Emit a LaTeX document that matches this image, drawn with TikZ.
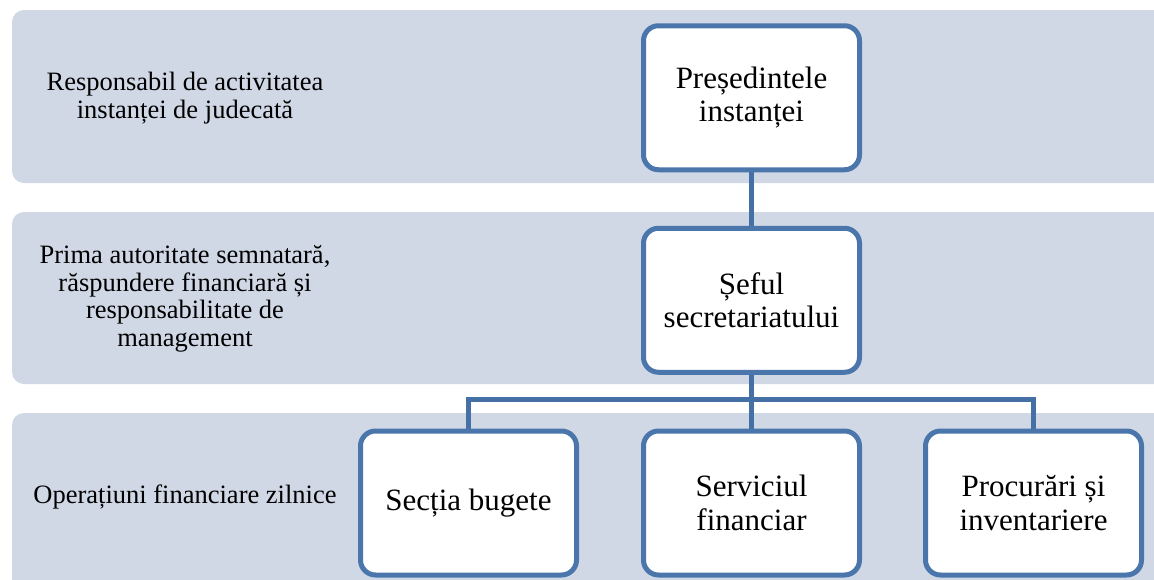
\documentclass[tikz,border=0pt]{standalone}
\usepackage{fontspec}
\setmainfont{Liberation Serif}
\definecolor{bandfill}{HTML}{D0D8E6}
\definecolor{boxblue}{HTML}{4A76AB}
\definecolor{connblue}{HTML}{4570A6}
\pgfdeclarelayer{bandlayer}
\pgfdeclarelayer{connlayer}
\pgfsetlayers{bandlayer,connlayer,main}
\tikzset{
  band/.style={fill=bandfill, rounded corners=12pt},
  orgbox/.style={draw=boxblue, line width=5pt, fill=white, rounded corners=15pt,
    minimum width=216pt, minimum height=144pt, inner sep=0pt, align=center,
    font=\fontsize{31}{33.5}\selectfont},
  sidelabel/.style={align=center, inner sep=0pt, font=\fontsize{26.5}{27.6}\selectfont},
  conn/.style={draw=connblue, line width=4.5pt}
}
\begin{document}
\begin{tikzpicture}[x=1pt,y=-1pt]
\useasboundingbox (0,0) rectangle (1154,579);
\clip (0,0) rectangle (1154,579);
% bands
\begin{pgfonlayer}{bandlayer}
\fill[band] (12,10) rectangle (1180,183);
\fill[band] (12,212) rectangle (1180,384);
\fill[band] (12,413) rectangle (1180,600);
\end{pgfonlayer}
% side labels
\node[sidelabel] (l1) at (185,98) {Responsabil de activitatea\\instanței de judecată};
\node[sidelabel] (l2) at (185,299) {Prima autoritate semnatară,\\răspundere financiară și\\responsabilitate de\\management};
\node[sidelabel] (l3) at (185,497) {Operațiuni financiare zilnice};
% boxes
\node[orgbox] (pres) at (751.5,97.75) {Președintele\\instanței};
\node[orgbox] (sef) at (751.5,300.25) {Șeful\\secretariatului};
\node[orgbox] (sec) at (468.5,503) {Secția bugete};
\node[orgbox] (serv) at (751.5,503) {Serviciul\\financiar};
\node[orgbox] (proc) at (1033.5,503) {Procurări și\\inventariere};
% connectors
\begin{pgfonlayer}{connlayer}
\draw[conn] (pres.south) -- (sef.north);
\draw[conn] (sef.south) -- (serv.north);
\draw[conn] (sec.north) -- ++(0,-29) coordinate (busl) -| (proc.north);
\end{pgfonlayer}
\end{tikzpicture}
\end{document}
